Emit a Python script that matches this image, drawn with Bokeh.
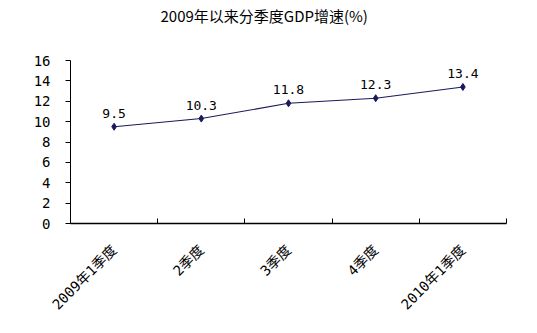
import math
from bokeh.plotting import figure
from bokeh.models import ColumnDataSource, FixedTicker, Range1d, LabelSet, Title
from bokeh.core.properties import value
from bokeh.embed import file_html
from bokeh.resources import INLINE

categories = ["2009年1季度", "2季度", "3季度", "4季度", "2010年1季度"]
growth = [9.5, 10.3, 11.8, 12.3, 13.4]
growth_labels = ["9.5", "10.3", "11.8", "12.3", "13.4"]
y_ticks = [0, 2, 4, 6, 8, 10, 12, 14, 16]

FONT = "Noto Sans CJK SC"
NUM_FONT = "DejaVu Sans Mono, Noto Sans CJK SC"
LINE_COLOR = "#1a1a5a"

xs = [i + 0.5 for i in range(len(categories))]
source = ColumnDataSource(dict(x=xs, y=growth, lab=growth_labels))

p = figure(width=537, height=333, output_backend="svg", toolbar_location=None,
           x_range=Range1d(0, len(categories)), y_range=Range1d(0, 16),
           title="2009年以来分季度GDP增速(%)")
p.min_border_left = 70
p.min_border_right = 31
p.min_border_top = 60
p.min_border_bottom = 110
p.outline_line_color = None
p.xgrid.grid_line_color = None
p.ygrid.grid_line_color = None
p.background_fill_color = "white"
p.border_fill_color = "white"

# empty spacer panel between title and frame
p.add_layout(Title(text=" ", text_font_size="24px", standoff=0), "above")

p.title.align = "left"
p.title.offset = 90
p.title.vertical_align = "top"
p.title.text_font = FONT
p.title.text_font_size = "15px"
p.title.text_font_style = "normal"
p.title.text_color = "#000000"
p.title.standoff = 8

p.line("x", "y", source=source, line_color=LINE_COLOR, line_width=1.1)
p.scatter("x", "y", source=source, marker="diamond", size=7,
          fill_color=LINE_COLOR, line_color=LINE_COLOR)

labels = LabelSet(x="x", y="y", text="lab", source=source, y_offset=9,
                  text_align="center", text_baseline="bottom",
                  text_font=value(NUM_FONT), text_font_size="13px", text_color="#000000")
p.add_layout(labels)

# y axis
p.yaxis.ticker = FixedTicker(ticks=y_ticks)
p.yaxis.axis_line_color = "#000000"
p.yaxis.major_tick_line_color = "#000000"
p.yaxis.major_tick_out = 5
p.yaxis.major_tick_in = 0
p.yaxis.minor_tick_line_color = None
p.yaxis.major_label_text_font = NUM_FONT
p.yaxis.major_label_text_font_size = "14px"
p.yaxis.major_label_text_color = "#000000"
p.yaxis.major_label_standoff = 15

# x axis: labels at band centers, ticks at band boundaries (minor ticks)
p.xaxis.ticker = FixedTicker(ticks=xs, minor_ticks=list(range(len(categories) + 1)))
p.xaxis.major_label_overrides = {x: c for x, c in zip(xs, categories)}
p.xaxis.axis_line_color = "#000000"
p.xaxis.axis_line_width = 1.5
p.xaxis.major_tick_line_color = None
p.xaxis.minor_tick_line_color = "#000000"
p.xaxis.minor_tick_in = 5
p.xaxis.minor_tick_out = 0
p.xaxis.major_label_orientation = math.pi / 4
p.xaxis.major_label_text_font = NUM_FONT
p.xaxis.major_label_text_font_size = "14px"
p.xaxis.major_label_text_color = "#000000"
p.xaxis.major_label_standoff = 18

open("out.html", "w").write(file_html(p, INLINE))
